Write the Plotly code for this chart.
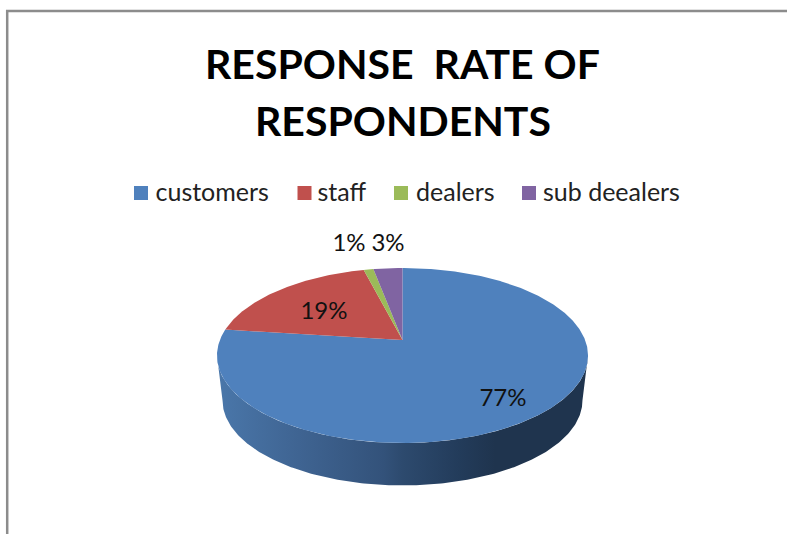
import numpy as np
import plotly.graph_objects as go

# Survey data
categories = ["customers", "staff", "dealers", "sub deealers"]
values = [77, 19, 1, 3]
title_lines = ["RESPONSE  RATE OF", "RESPONDENTS"]

# Styling and layout
colors = ["#4f81bd", "#c0504d", "#9bbb59", "#8064a2"]
FONT = "Lato, Carlito, Calibri, sans-serif"
W, H = 787, 534
CX, CY_TOP, CY_BOTTOM = 402.5, 340.0, 385.5
RADIUS = 182.6
BOTTOM_SCALE = 0.97
FORESHORTEN = 84.8
TILT = 0.177
swatch_x = [141, 304.5, 401, 529]
swatch_y = 193
legend_text_x = [155.5, 317.5, 416, 543]
legend_text_y = 195
label_pos = [(503, 400), (324, 313), (349, 245), (388, 245)]
title_pos = [(402, 63), (403, 120)]


def rim(theta_deg, cy, scale=1.0):
    """Perspective projection of a disc rim; angles run clockwise from 12 o'clock."""
    t = np.radians(theta_deg)
    u, v = np.sin(t), np.cos(t)
    d = 1 + TILT * v
    return CX + scale * RADIUS * u / d, cy - scale * FORESHORTEN * v / d


fig = go.Figure()

# Visible wall of the disc, spanning the two horizontal extremes of the rim
t_right = np.degrees(np.arccos(-TILT))
t_left = 360 - t_right
arc = np.linspace(t_right, t_left, 240)
xt, yt = rim(arc, CY_TOP)
xb, yb = rim(arc[::-1], CY_BOTTOM, BOTTOM_SCALE)
fig.add_trace(go.Scatter(
    x=np.r_[xt, xb], y=np.r_[yt, yb], mode="lines", line=dict(width=0),
    fill="toself", hoverinfo="skip", showlegend=False,
    fillgradient=dict(
        type="horizontal",
        colorscale=[[0, "#4a77aa"], [0.22, "#3f6492"], [0.45, "#33527a"],
                    [0.5, "#2d4a6e"], [0.65, "#233c5b"], [0.75, "#1f344e"], [1, "#1f344e"]],
    ),
))

# Top face: one wedge per category, sized from its share
shares = np.array(values, dtype=float) / sum(values) * 360
ends = np.cumsum(shares)
starts = ends - shares
for name, color, a, b in zip(categories, colors, starts, ends):
    th = np.linspace(a, b, max(int(b - a) * 2, 6))
    x, y = rim(th, CY_TOP)
    fig.add_trace(go.Scatter(
        x=np.r_[CX, x, CX], y=np.r_[CY_TOP, y, CY_TOP], mode="lines",
        line=dict(width=0), fill="toself", fillcolor=color, name=name,
        hoverinfo="name", showlegend=False,
    ))

# Percentage labels
fig.add_trace(go.Scatter(
    x=[p[0] for p in label_pos], y=[p[1] for p in label_pos], mode="text",
    text=[f"{v}%" for v in values], textposition="middle center",
    textfont=dict(family=FONT, size=24, color="#111111"),
    hoverinfo="skip", showlegend=False,
))

# Legend row: swatches, then names
fig.add_trace(go.Scatter(
    x=swatch_x, y=[swatch_y] * len(categories), mode="markers",
    marker=dict(symbol="square", size=14, color=colors),
    hoverinfo="skip", showlegend=False,
))
fig.add_trace(go.Scatter(
    x=legend_text_x, y=[legend_text_y] * len(categories), mode="text",
    text=categories, textposition="middle right",
    textfont=dict(family=FONT, size=25, color="#222222"),
    hoverinfo="skip", showlegend=False,
))

# Two-line heading
for line, (tx, ty) in zip(title_lines, title_pos):
    fig.add_annotation(
        x=tx, y=ty, xref="x", yref="y", text=line, showarrow=False,
        xanchor="center", yanchor="middle",
        font=dict(family=FONT, size=41, color="black", weight="bold"),
    )

fig.update_layout(
    width=W, height=H, margin=dict(l=0, r=0, t=0, b=0),
    paper_bgcolor="white", plot_bgcolor="white", showlegend=False,
    xaxis=dict(range=[0, W], visible=False, fixedrange=True),
    yaxis=dict(range=[H, 0], visible=False, fixedrange=True),
    shapes=[
        dict(type="line", x0=7.2, x1=7.2, y0=10, y1=H, line=dict(color="#8c8c8c", width=2.5)),
        dict(type="line", x0=6, x1=W, y0=11, y1=11, line=dict(color="#8c8c8c", width=2.5)),
    ],
)

fig.write_html("out.html")
